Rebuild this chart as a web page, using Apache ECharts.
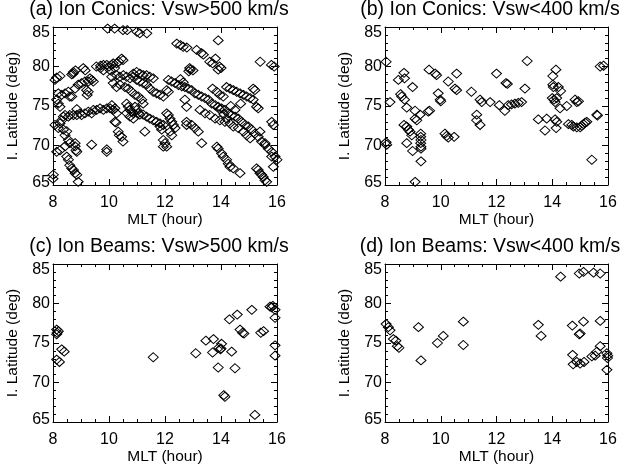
<!DOCTYPE html>
<html>
<head>
<meta charset="utf-8">
<script src="https://cdn.jsdelivr.net/npm/echarts@6/dist/echarts.min.js"></script>
<style>
html,body{margin:0;padding:0;background:#fff;}
#chart{width:629px;height:466px;}
</style>
</head>
<body>
<div id="chart"></div>
<script>
// ---- data (MLT hour, invariant latitude deg) ----
var titles = ['(a) Ion Conics: Vsw>500 km/s', '(b) Ion Conics: Vsw<400 km/s', '(c) Ion Beams: Vsw>500 km/s', '(d) Ion Beams: Vsw<400 km/s'];
var xTicks = [8, 10, 12, 14, 16];
var yTicks = [65, 70, 75, 80, 85];
var xName = 'MLT (hour)';
var yName = 'I. Latitude (deg)';

var conicsFast = [
[9.95,84.8],[10.2,84.8],[10.5,84.6],[10.65,84.6],[11.0,84.4],[11.1,84.2],[11.35,84.2],
[12.42,82.9],[12.55,82.7],[12.65,82.5],[12.78,82.4],[13.13,82.1],[13.3,81.7],[13.37,81.5],[13.9,83.3],
[13.6,80.6],[13.7,80.4],[13.8,81.0],[13.95,80.0],[14.0,79.8],[13.9,79.6],
[15.4,80.6],[15.8,80.2],[15.9,80.0],[12.88,79.8],[12.9,79.6],[12.85,79.4],
[9.55,80.0],[9.7,80.1],[9.8,80.2],[9.92,80.2],[10.0,80.0],[10.1,80.2],[10.15,80.4],[10.27,80.4],[10.35,80.6],[10.45,81.0],[10.5,80.8],[10.2,79.8],[10.05,79.5],[9.8,79.5],[9.7,79.8],
[8.8,79.5],[8.72,79.1],[9.08,79.8],[9.15,79.5],
[8.07,78.3],[8.13,78.6],[8.25,78.8],[8.73,79.3],[8.67,79.0],
[8.19,76.6],[8.31,76.4],[8.43,76.6],[8.55,76.8],[8.6,76.2],[8.13,75.8],[8.19,75.3],[8.25,74.9],
[8.79,77.2],[8.9,77.7],[9.02,77.9],[9.14,78.1],[8.67,76.2],
[9.32,78.5],[9.38,78.3],[9.44,78.1],[9.26,78.1],[9.2,77.0],[9.26,76.8],[9.22,76.4],[8.85,74.6],
[8.37,73.65],[8.43,73.86],[8.55,73.65],[8.6,73.86],[8.73,73.86],[8.85,73.86],[8.96,74.07],[9.02,73.86],[9.14,74.07],[9.26,74.28],[9.38,74.07],[9.44,74.5],[9.56,74.5],[9.68,74.7],[9.8,74.5],[9.92,74.7],[10.04,74.7],[10.15,74.5],[10.21,74.7],[10.27,74.07],[10.1,75.1],
[8.31,73.2],[8.25,72.8],[8.07,72.6],[8.19,72.2],[8.37,72.0],[8.49,71.8],[8.43,71.3],[8.55,70.7],[8.6,70.3],
[8.25,69.4],[8.13,69.2],[8.43,69.9],[8.49,68.6],[8.55,68.2],[8.6,67.5],[8.67,67.1],[8.73,66.9],[8.79,66.5],[8.85,66.3],[8.9,65.4],
[8.79,70.3],[8.79,69.9],[8.82,69.4],[8.85,69.2],[8.01,66.3],
[9.38,70.1],[9.92,69.5],[9.92,69.2],[10.21,73.0],[10.25,72.9],[10.33,71.75],[10.37,71.3],[10.45,71.1],[10.5,70.5],
[10.1,78.7],[10.27,78.9],[10.39,78.7],[10.51,78.9],[10.63,78.7],[10.75,78.5],[10.87,78.7],
[10.87,79.1],[10.99,79.3],[11.1,79.1],[11.22,78.9],[11.34,78.9],[11.46,78.7],[11.58,78.5],
[10.99,78.3],[11.1,78.1],[11.22,77.9],[11.34,77.7],[10.15,77.9],[10.27,77.4],[10.39,77.7],
[10.57,77.4],[10.69,77.2],[10.81,76.8],[10.93,76.4],[11.05,76.2],
[11.46,77.2],[11.58,76.8],[11.7,76.6],[11.82,76.4],[11.94,76.2],[12.06,77.0],[12.12,76.8],
[10.63,75.3],[10.69,74.9],[10.75,74.5],[10.81,74.3],[10.87,74.1],[10.93,74.9],[10.99,74.5],[11.05,74.1],[11.1,73.9],
[10.63,74.1],[10.75,73.65],[10.87,73.4],
[11.22,73.9],[11.34,73.65],[11.46,73.4],[11.58,73.2],[11.7,73.0],[11.82,72.8],[11.94,72.6],[11.28,71.75],[11.17,75.8],[11.22,75.3],
[12.06,74.07],[12.12,73.86],[12.18,73.4],[12.24,73.0],[12.3,72.6],[12.36,72.2],[12.18,71.75],[12.24,71.3],
[11.94,70.7],[12.0,70.3],[12.06,69.85],[11.94,69.85],[11.82,72.4],[11.88,72.0],
[12.12,78.3],[12.24,78.1],[12.36,77.9],[12.48,77.65],[12.6,77.5],[12.71,77.4],[12.83,77.2],[12.95,77.0],[13.07,76.6],[13.19,76.4],[13.31,76.2],[13.43,76.0],[13.55,75.8],[13.67,75.3],[13.79,75.1],[13.9,74.9],[14.02,74.7],[14.14,74.5],[14.26,74.07],[14.38,73.86],[14.5,73.65],[14.62,73.4],[14.74,73.0],[14.86,72.6],[14.98,72.4],[15.1,72.0],[15.21,71.5],[15.33,71.1],[15.45,70.5],[15.57,70.1],[15.69,69.6],[15.81,69.2],[15.93,68.6],[16.0,68.2],
[13.25,74.5],[13.43,74.07],[13.6,73.86],[13.79,73.4],[13.96,73.2],[14.14,73.0],[14.32,72.8],[14.44,72.4],[14.62,72.2],[14.8,71.75],[14.92,71.3],[15.04,70.9],
[14.2,77.4],[14.32,77.2],[14.44,77.0],[14.56,76.8],[14.68,76.6],[14.8,76.4],[14.92,76.2],[15.04,76.0],[15.15,75.8],
[13.7,77.2],[13.85,76.8],[13.96,76.4],[14.08,76.2],
[12.71,75.8],[12.77,74.9],[12.95,72.6],[13.07,72.2],[13.19,71.75],[13.31,70.3],[12.77,73.0],[12.77,72.6],
[13.85,69.85],[13.9,69.6],[14.02,69.0],[14.08,68.6],[14.2,68.2],[14.26,67.7],[14.32,67.3],[14.44,67.1],[14.68,66.5],
[15.27,67.1],[15.33,66.9],[15.39,66.5],[15.45,66.3],[15.51,66.0],[15.57,65.6],[15.63,65.4],
[15.57,70.3],[15.39,71.75],[15.81,73.0],[15.87,72.6],[15.81,68.6],[15.87,67.3],[15.27,74.9],[15.33,74.7],[15.15,77.2],[15.21,77.0],
[8.0,65.8],[12.55,78.4],[12.65,78.0],[13.0,79.5],[14.1,74.0],[14.2,73.4],[13.95,74.6],[14.35,75.0],[14.5,74.5],[14.7,75.3]
];

var conicsSlow = [
[8.04,80.6],[8.04,70.4],[8.06,70.1],[8.18,75.5],[8.48,78.3],[8.68,79.2],[8.7,78.5],[8.56,76.5],[8.6,76.2],[8.7,75.8],[8.78,74.8],[8.99,77.4],
[9.08,74.4],[9.08,73.4],[9.14,73.2],[8.68,72.6],[8.78,72.4],[8.84,72.0],[8.9,71.75],[8.96,71.3],[8.78,70.3],[8.99,69.3],[9.29,68.0],[9.08,65.4],
[9.28,71.5],[9.28,71.1],[9.29,70.7],[9.28,70.3],[9.29,69.85],[9.29,69.6],[9.26,73.9],[9.55,74.3],[9.6,74.4],
[9.58,79.6],[9.8,79.1],[9.85,78.9],[9.91,76.6],[9.98,75.8],[10.0,75.6],[10.27,78.1],[10.51,77.2],[10.57,77.0],[10.57,79.1],
[10.15,71.5],[10.21,71.2],[10.27,71.0],[10.48,71.1],[11.1,76.8],[11.29,73.9],[11.29,73.2],[11.41,72.6],[11.41,75.8],[11.47,75.5],[11.77,75.5],
[12.0,79.1],[12.1,75.1],[12.3,74.4],[12.34,77.9],[12.39,77.8],[12.42,75.1],[12.54,75.2],[12.66,75.3],[12.78,75.4],[12.9,75.5],[13.02,77.2],[13.1,80.7],
[13.5,73.3],[13.74,71.9],[13.8,73.4],[14.02,78.8],[14.02,77.7],[14.04,77.4],[14.13,79.6],[14.0,76.0],[14.06,75.8],[14.1,75.5],[14.16,76.0],
[14.22,77.4],[14.3,76.9],[14.28,74.7],[14.1,73.3],[14.16,73.0],[14.14,72.2],[14.52,75.0],[14.58,72.7],[14.7,72.6],[14.76,72.4],[14.88,72.3],
[14.82,75.8],[14.88,75.5],[14.94,75.6],[15.0,72.3],[15.06,72.5],[15.12,72.7],[15.18,72.9],[15.24,73.0],[15.42,68.2],[15.6,73.9],[15.62,73.8],[15.72,80.0],[15.84,80.1]
];

var beamsFast = [
[8.13,76.7],[8.19,76.5],[8.15,76.3],[8.13,76.1],[8.13,72.9],[8.23,72.6],[8.31,74.2],[8.4,73.9],[11.58,73.2],[13.1,73.7],
[13.46,75.3],[13.73,75.5],[13.7,73.8],[13.92,74.4],[13.98,74.2],[14.0,74.3],[14.02,74.9],[13.9,71.9],[14.38,73.9],[14.3,78.0],
[14.58,78.6],[14.68,76.7],[14.77,76.3],[14.82,76.2],[14.5,71.8],[14.1,68.4],[14.14,68.2],[15.1,79.2],[15.21,65.9],[15.42,76.3],
[15.52,76.5],[15.75,79.6],[15.81,79.5],[15.85,79.7],[15.93,78.2],[15.93,74.7],[15.93,73.4],[15.93,79.2]
];

var beamsSlow = [
[8.04,77.4],[8.12,77.0],[8.18,76.6],[8.3,75.5],[8.39,75.3],[8.44,74.6],[8.5,74.4],[9.2,77.0],[9.29,72.8],[9.88,75.0],
[10.09,75.9],[10.81,77.7],[10.81,74.75],[13.5,77.3],[13.6,75.9],[14.3,83.4],[14.72,77.2],[14.73,73.5],[14.75,72.3],[14.97,76.1],
[15.0,76.2],[14.88,72.6],[15.0,72.4],[15.14,72.6],[14.97,83.8],[15.12,84.0],[15.12,77.7],[15.48,83.9],[15.72,83.8],[15.72,77.8],
[15.42,73.3],[15.54,73.4],[15.6,73.9],[15.72,74.6],[15.96,73.7],[15.99,73.4],[15.98,73.1],[15.96,71.6]
];

// ---- layout ----
var FONT = '"Liberation Sans", Arial, Helvetica, sans-serif';
var grids = [
  {left: 53, top: 27, width: 224, height: 158},
  {left: 385, top: 27, width: 223, height: 158},
  {left: 53, top: 264, width: 224, height: 158},
  {left: 385, top: 264, width: 223, height: 158}
];
var titlePos = [[164, 0], [495, 0], [164, 237], [495, 237]];
var panelData = [conicsFast, conicsSlow, beamsFast, beamsSlow];

var xMin = xTicks[0], xMax = xTicks[xTicks.length - 1], xInt = xTicks[1] - xTicks[0];
var yMin = yTicks[0], yMax = yTicks[yTicks.length - 1], yInt = yTicks[1] - yTicks[0];

var lineStyle = {color: '#000', width: 1};
var labelBase = {fontFamily: FONT, fontSize: 16, color: '#000'};
var xAxes = [], yAxes = [], series = [], titleOpts = [];
grids.forEach(function (g, i) {
  xAxes.push({
    gridIndex: i, type: 'value', position: 'bottom', min: xMin, max: xMax, interval: xInt,
    name: xName, nameLocation: 'middle', nameGap: 24,
    nameTextStyle: {fontFamily: FONT, fontSize: 15.5, color: '#000'},
    axisLine: {show: true, onZero: false, lineStyle: lineStyle},
    axisTick: {show: true, inside: true, length: 6, lineStyle: lineStyle},
    minorTick: {show: true, splitNumber: 4, length: 3, lineStyle: lineStyle},
    axisLabel: {show: true, margin: 10, fontFamily: FONT, fontSize: 16, color: '#000'},
    splitLine: {show: false}
  });
  xAxes.push({
    gridIndex: i, type: 'value', position: 'top', min: xMin, max: xMax, interval: xInt,
    axisLine: {show: true, onZero: false, lineStyle: lineStyle},
    axisTick: {show: true, inside: true, length: 6, lineStyle: lineStyle},
    minorTick: {show: true, splitNumber: 4, length: 3, lineStyle: lineStyle},
    axisLabel: {show: false}, splitLine: {show: false}
  });
  yAxes.push({
    gridIndex: i, type: 'value', position: 'left', min: yMin, max: yMax, interval: yInt,
    name: yName, nameLocation: 'middle', nameGap: 32, nameRotate: 90,
    nameTextStyle: {fontFamily: FONT, fontSize: 15.5, color: '#000'},
    axisLine: {show: true, onZero: false, lineStyle: lineStyle},
    axisTick: {show: true, inside: true, length: 6, lineStyle: lineStyle},
    minorTick: {show: true, splitNumber: 5, length: 3, lineStyle: lineStyle},
    axisLabel: {
      show: true, margin: 3, fontFamily: FONT, fontSize: 16, color: '#000',
      formatter: function (v) {
        if (v === yMax) return '{top|' + v + '}';
        if (v === yMin) return '{bot|' + v + '}';
        return '{mid|' + v + '}';
      },
      rich: {
        top: Object.assign({padding: [11, 0, 0, 0]}, labelBase),
        bot: Object.assign({padding: [0, 0, 5, 0]}, labelBase),
        mid: Object.assign({}, labelBase)
      }
    },
    splitLine: {show: false}
  });
  yAxes.push({
    gridIndex: i, type: 'value', position: 'right', min: yMin, max: yMax, interval: yInt,
    axisLine: {show: true, onZero: false, lineStyle: lineStyle},
    axisTick: {show: true, inside: true, length: 6, lineStyle: lineStyle},
    minorTick: {show: true, splitNumber: 5, length: 3, lineStyle: lineStyle},
    axisLabel: {show: false}, splitLine: {show: false}
  });
  series.push({
    type: 'scatter', xAxisIndex: 2 * i, yAxisIndex: 2 * i, data: panelData[i],
    symbol: 'diamond', symbolSize: [10, 9], clip: false, silent: true,
    itemStyle: {color: 'rgba(0,0,0,0)', borderColor: '#000', borderWidth: 1, opacity: 1}
  });
  titleOpts.push({
    text: titles[i], left: titlePos[i][0] - 5, top: titlePos[i][1], textAlign: 'center', padding: 0,
    textStyle: {fontFamily: FONT, fontSize: 19.5, fontWeight: 'normal', color: '#000'}
  });
});

var chart = echarts.init(document.getElementById('chart'), null, {renderer: 'canvas'});
chart.setOption({
  animation: false,
  backgroundColor: '#fff',
  title: titleOpts,
  grid: grids,
  xAxis: xAxes,
  yAxis: yAxes,
  series: series
});
</script>
</body>
</html>
